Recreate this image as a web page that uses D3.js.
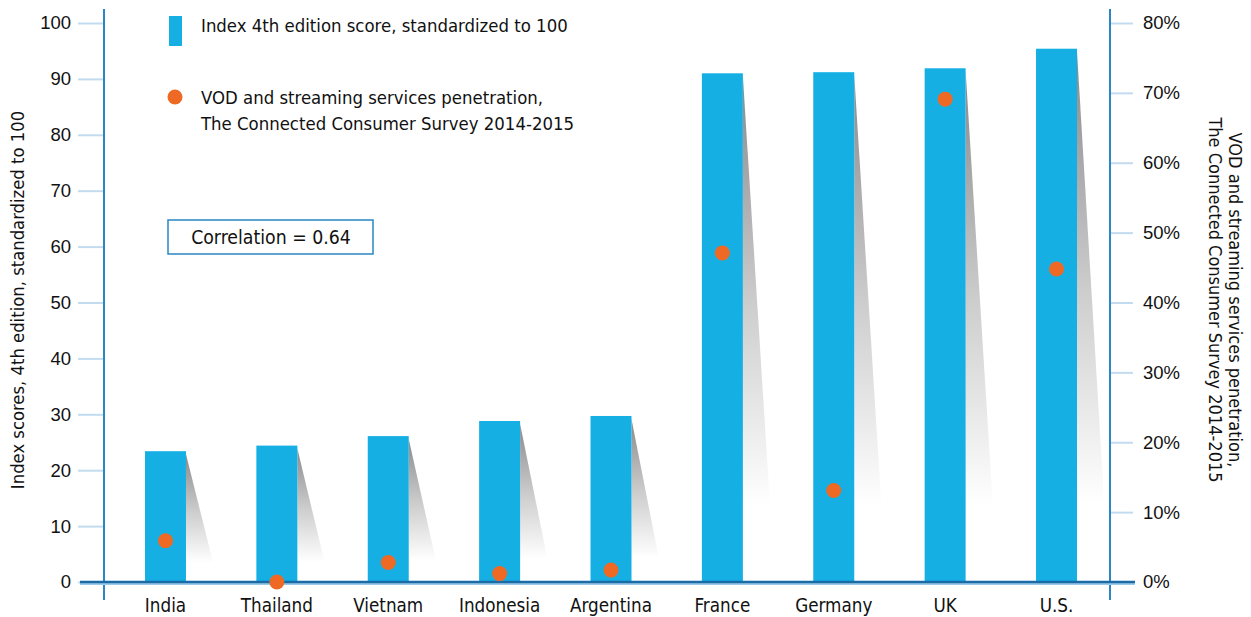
<!DOCTYPE html>
<html>
<head>
<meta charset="utf-8">
<script src="https://cdn.jsdelivr.net/npm/d3@7"></script>
<style>
  body { margin: 0; background: #fff; }
  svg { display: block; font-family: "Liberation Sans Narrow", "DejaVu Sans Condensed", "Roboto Condensed", sans-serif; }
</style>
</head>
<body>
<svg id="chart" width="1251" height="617"></svg>
<script>
const countries = ['India', 'Thailand', 'Vietnam', 'Indonesia', 'Argentina', 'France', 'Germany', 'UK', 'U.S.'];
const indexScores = [23.4, 24.4, 26.1, 28.8, 29.7, 91.0, 91.2, 91.9, 95.4];
const vodPenetration = [0.059, 0.0, 0.028, 0.012, 0.017, 0.471, 0.131, 0.691, 0.448];
const leftTicks = [0, 10, 20, 30, 40, 50, 60, 70, 80, 90, 100];
const rightTicks = [0, 0.1, 0.2, 0.3, 0.4, 0.5, 0.6, 0.7, 0.8];

const barLabel = 'Index 4th edition score, standardized to 100';
const dotLabel = ['VOD and streaming services penetration,', 'The Connected Consumer Survey 2014-2015'];
const leftTitle = 'Index scores, 4th edition, standardized to 100';
const correlationText = 'Correlation = 0.64';

const blue = '#15afe4';
const orange = '#ee6a24';
const axisBlue = '#2a86c4';
const tickBlue = '#c3dbee';

const svg = d3.select('#chart');
const axisLeftX = 104, axisRightX = 1110;
const baseY = 582;

let x = d3.scaleBand()
    .domain(countries)
    .range([104, 1118])
    .paddingInner(0.632)
    .paddingOuter(0.368);

let y = d3.scaleLinear().domain([0, 100]).range([baseY, 23]);
let y2 = d3.scaleLinear().domain([0, 0.8]).range([baseY, 23]);

// shadow gradient
let defs = svg.append('defs');
let grad = defs.append('linearGradient')
    .attr('id', 'shade')
    .attr('x1', 0).attr('y1', 0).attr('x2', 0).attr('y2', 1);
grad.append('stop').attr('offset', 0).attr('stop-color', '#88898b');
grad.append('stop').attr('offset', 0.45).attr('stop-color', '#cdcdce');
grad.append('stop').attr('offset', 0.85).attr('stop-color', '#ffffff');

// shadows
svg.append('g').selectAll('path')
    .data(countries)
    .join('path')
    .attr('d', (d, i) => {
        let x1 = x(d) + x.bandwidth();
        let top = y(indexScores[i]) + 3;
        return `M${x1},${top}L${x1 + 32},${baseY}L${x1},${baseY}Z`;
    })
    .attr('fill', 'url(#shade)');

// bars
svg.append('g').selectAll('rect')
    .data(countries)
    .join('rect')
    .attr('x', d => x(d))
    .attr('y', (d, i) => y(indexScores[i]))
    .attr('width', x.bandwidth())
    .attr('height', (d, i) => baseY - y(indexScores[i]))
    .attr('fill', blue);

// left axis
let leftAxis = svg.append('g')
    .attr('transform', `translate(${axisLeftX},0)`)
    .call(d3.axisLeft(y).tickValues(leftTicks).tickSize(26).tickPadding(7));
leftAxis.select('.domain').remove();
leftAxis.selectAll('line').attr('stroke', tickBlue).attr('stroke-width', 2);
leftAxis.selectAll('text').attr('font-size', 18.5).attr('fill', '#111');

// right axis
let rightAxis = svg.append('g')
    .attr('transform', `translate(${axisRightX},0)`)
    .call(d3.axisRight(y2).tickValues(rightTicks).tickSize(23).tickPadding(10).tickFormat(d3.format('.0%')));
rightAxis.select('.domain').remove();
rightAxis.selectAll('line').attr('stroke', tickBlue).attr('stroke-width', 2);
rightAxis.selectAll('text').attr('font-size', 18.5).attr('fill', '#111');

// axis lines
svg.append('line')
    .attr('x1', axisLeftX).attr('x2', axisLeftX).attr('y1', 9).attr('y2', 600)
    .attr('stroke', axisBlue).attr('stroke-width', 2);
svg.append('line')
    .attr('x1', axisRightX).attr('x2', axisRightX).attr('y1', 9).attr('y2', 600)
    .attr('stroke', axisBlue).attr('stroke-width', 2);

// baseline
svg.append('line')
    .attr('x1', 80).attr('x2', 1135).attr('y1', baseY + 1).attr('y2', baseY + 1)
    .attr('stroke', '#9ccbe8').attr('stroke-width', 4);
svg.append('line')
    .attr('x1', 80).attr('x2', 1135).attr('y1', baseY).attr('y2', baseY)
    .attr('stroke', '#1b6ca6').attr('stroke-width', 2.5);

// dots
svg.append('g').selectAll('circle')
    .data(countries)
    .join('circle')
    .attr('cx', d => x(d) + x.bandwidth() / 2)
    .attr('cy', (d, i) => y2(vodPenetration[i]))
    .attr('r', 7.5)
    .attr('fill', orange);

// x labels
svg.append('g').selectAll('text')
    .data(countries)
    .join('text')
    .attr('x', d => x(d) + x.bandwidth() / 2)
    .attr('y', 612)
    .attr('text-anchor', 'middle')
    .attr('font-size', 18.7)
    .attr('fill', '#111')
    .text(d => d);

// axis titles
svg.append('text')
    .attr('transform', 'translate(24,300) rotate(-90)')
    .attr('text-anchor', 'middle')
    .attr('font-size', 18.3)
    .attr('fill', '#111')
    .text(leftTitle);

let rt = svg.append('text')
    .attr('transform', 'translate(1229,300) rotate(90)')
    .attr('text-anchor', 'middle')
    .attr('font-size', 18)
    .attr('fill', '#111');
rt.selectAll('tspan')
    .data(dotLabel)
    .join('tspan')
    .attr('x', 0)
    .attr('dy', (d, i) => i === 0 ? 0 : 20)
    .text(d => d);

// legend
svg.append('rect')
    .attr('x', 169).attr('y', 16).attr('width', 13).attr('height', 30)
    .attr('fill', blue);
svg.append('text')
    .attr('x', 201).attr('y', 32)
    .attr('font-size', 18.4).attr('fill', '#111')
    .text(barLabel);
svg.append('circle')
    .attr('cx', 175).attr('cy', 97).attr('r', 7.5)
    .attr('fill', orange);
svg.append('text')
    .attr('x', 201).attr('y', 104)
    .attr('font-size', 18.4).attr('fill', '#111')
    .selectAll('tspan')
    .data(dotLabel)
    .join('tspan')
    .attr('x', 201)
    .attr('dy', (d, i) => i === 0 ? 0 : 26)
    .text(d => d);

// correlation box
svg.append('rect')
    .attr('x', 168).attr('y', 220).attr('width', 205).attr('height', 34)
    .attr('fill', '#fff').attr('stroke', axisBlue).attr('stroke-width', 1.5);
svg.append('text')
    .attr('x', 271).attr('y', 244)
    .attr('text-anchor', 'middle')
    .attr('font-size', 19.3).attr('fill', '#111')
    .text(correlationText);
</script>
</body>
</html>
